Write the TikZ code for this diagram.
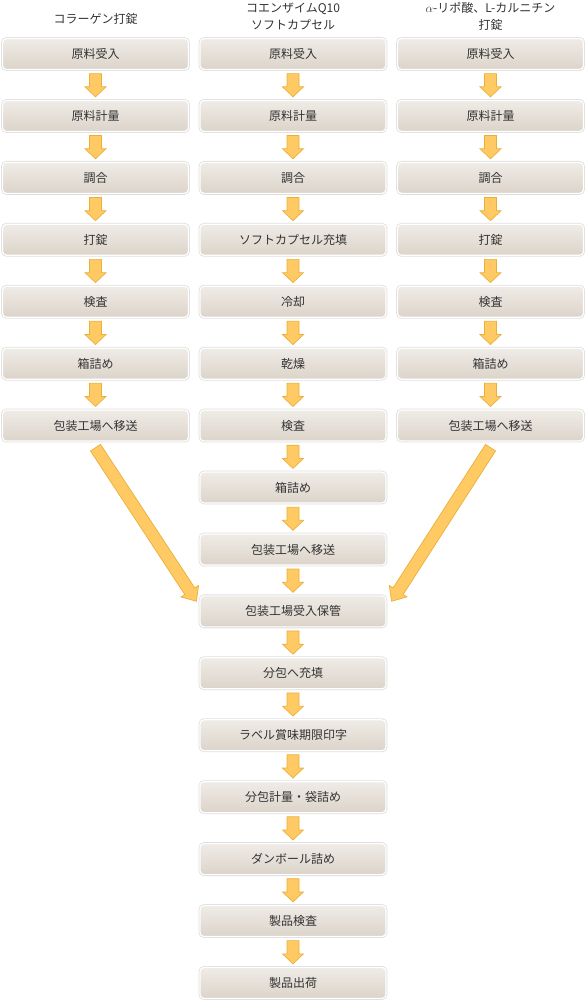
\documentclass[tikz,border=0pt]{standalone}
\usepackage{fontspec}
\setmainfont{Noto Sans CJK JP}
\usepackage{tikz}
\usetikzlibrary{arrows.meta,positioning,calc}

\definecolor{boxtop}{HTML}{EFEBE6}
\definecolor{boxbot}{HTML}{DCD4CA}
\definecolor{arrfill}{HTML}{FFC964}
\definecolor{arrline}{HTML}{EBB038}
\definecolor{txt}{HTML}{333333}

% block arrow: start, end, shaft half width, head half width, head length
\newcommand{\blkarr}[5]{%
  \draw[barr] let \p1=($#2-#1$), \n1={atan2(\y1,\x1)}, \n2={veclen(\x1,\y1)} in
    [shift={#1},rotate=\n1] (0,-#3) -- ({\n2-#5},-#3) -- ({\n2-#5},-#4) -- (\n2,0)
    -- ({\n2-#5},#4) -- ({\n2-#5},#3) -- (0,#3) -- cycle;}

\begin{document}
\begin{tikzpicture}[x=1pt,y=-1pt,
  stepbox/.style={rectangle,rounded corners=4pt,minimum width=186pt,minimum height=31pt,inner sep=0pt,
    top color=boxtop,bottom color=boxbot,draw=white,line width=1.2pt,
    preaction={draw=black!13,line width=2.8pt},text=txt,font=\fontsize{12}{14}\selectfont},
  hd/.style={align=center,text=txt,font=\fontsize{12}{17.5}\selectfont,inner sep=0pt},
  barr/.style={fill=arrfill,draw=arrline,line width=0.7pt,line join=miter}]
\useasboundingbox (0,0) rectangle (586,1001);

% headers
\node[hd] (h1) at (95.5,19) {コラーゲン打錠};
\node[hd] (h2) at (293,16.5) {コエンザイムQ10\\ソフトカプセル};
\node[hd] (h3) at (490.5,16.5) {$\alpha$-リポ酸、L-カルニチン\\打錠};

% left column
\foreach \t [count=\i] in {原料受入,原料計量,調合,打錠,検査,箱詰め,包装工場へ移送}
  \node[stepbox] (l\i) at (95.5,{54+61.93*(\i-1)}) {\t};
% middle column
\foreach \t [count=\i] in {原料受入,原料計量,調合,ソフトカプセル充填,冷却,乾燥,検査,箱詰め,
    包装工場へ移送,包装工場受入保管,分包へ充填,ラベル賞味期限印字,分包計量・袋詰め,
    ダンボール詰め,製品検査,製品出荷}
  \node[stepbox] (m\i) at (293,{54+61.93*(\i-1)}) {\t};
% right column
\foreach \t [count=\i] in {原料受入,原料計量,調合,打錠,検査,箱詰め,包装工場へ移送}
  \node[stepbox] (r\i) at (490.5,{54+61.93*(\i-1)}) {\t};

% small arrows
\foreach \i in {2,...,7}{
  \pgfmathtruncatemacro\k{\i-1}
  \blkarr{($(l\k.south)+(0,3.5)$)}{($(l\i.north)+(0,-3)$)}{6}{10.5}{10}
  \blkarr{($(r\k.south)+(0,3.5)$)}{($(r\i.north)+(0,-3)$)}{6}{10.5}{10}
}
\foreach \i in {2,...,16}{
  \pgfmathtruncatemacro\k{\i-1}
  \blkarr{($(m\k.south)+(0,3.5)$)}{($(m\i.north)+(0,-3)$)}{6}{10.5}{10}
}

% merging arrows
\blkarr{($(l7.south)+(0,6)$)}{($(m10.north west)+(-3,6)$)}{6}{10.5}{12}
\blkarr{($(r7.south)+(0,6)$)}{($(m10.north east)+(5,6)$)}{6}{10.5}{12}
\end{tikzpicture}
\end{document}
